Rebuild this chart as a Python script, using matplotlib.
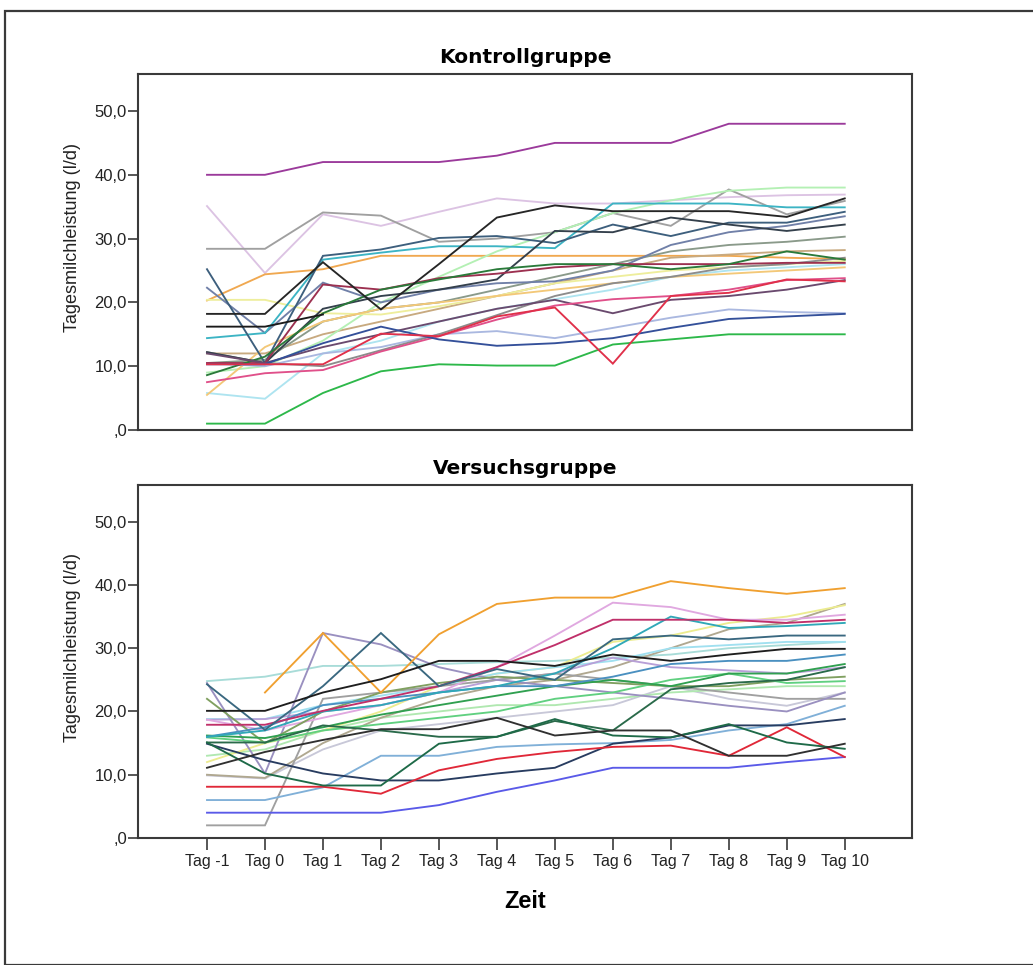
import numpy as np
import matplotlib.pyplot as plt
from matplotlib.patches import Rectangle
from matplotlib.ticker import FuncFormatter

nan = np.nan

tage = ['Tag -1', 'Tag 0', 'Tag 1', 'Tag 2', 'Tag 3', 'Tag 4',
        'Tag 5', 'Tag 6', 'Tag 7', 'Tag 8', 'Tag 9', 'Tag 10']

# Tagesmilchleistung je Tier (l/d), Kontrollgruppe
kontrolle = [
    [40, 40, 42, 42, 42, 43, 45, 45, 45, 48, 48, 48],
    [1, 1, 5.8, 9.2, 10.3, 10.1, 10.1, 13.4, 14.2, 15, 15, 15],
    [35.1, 24.6, 33.8, 32, 34.2, 36.3, 35.5, 35.5, 36, 36.5, 36.8, 36.9],
    [28.4, 28.4, 34.1, 33.6, 29.5, 30, 31, 34, 32, 37.7, 33.8, 35.9],
    [20.3, 24.4, 25.2, 27.3, 27.3, 27.3, 27.3, 27.3, 27.3, 27.3, 27, 26.8],
    [12, 12, 15, 17, 19, 21, 23, 25, 27, 27.5, 28, 28.2],
    [10.5, 11, 17, 19, 20, 22, 24, 26, 28, 29, 29.5, 30.3],
    [9, 10, 14, 20, 24, 28, 31, 34, 36, 37.5, 38, 38],
    [20.4, 20.4, 18.3, 18.1, 19.4, 21, 23, 24, 25, 25.5, 26, 26.5],
    [5.8, 4.9, 12, 14, 17, 19, 20.5, 22, 24, 25, 25.5, 26],
    [5.5, 13, 17, 19, 20, 21, 22, 23, 24, 24.5, 25, 25.5],
    [10.5, 10, 12, 13, 15, 15.5, 14.4, 16, 17.6, 18.9, 18.5, 18.3],
    [12.2, 10.5, 10, 12.5, 15, 18, 21, 23, 24, 25.5, 26, 27],
    [22.3, 15.2, 23.1, 20, 22, 23, 23.3, 25, 29, 31, 32, 33.5],
    [14.4, 15.2, 26.7, 27.8, 28.8, 28.8, 28.5, 35.5, 35.5, 35.5, 34.9, 34.9],
    [25.2, 10.5, 27.3, 28.3, 30.1, 30.4, 29.3, 32.2, 30.4, 32.5, 32.5, 34.2],
    [12.2, 10.5, 19, 21, 22, 23.6, 31.2, 31, 33.3, 32.2, 31.2, 32.2],
    [10.5, 10.5, 22.8, 22, 23.8, 24.5, 25.5, 26, 26, 26, 26.2, 26.2],
    [8.6, 11.5, 18.3, 22, 23.6, 25.2, 26, 26, 25.2, 26, 28, 26.7],
    [12, 10.5, 13, 15, 17, 19, 20.4, 18.3, 20.4, 21, 22, 23.5],
    [7.5, 8.9, 9.4, 12.3, 14.7, 17.3, 19.5, 20.5, 21, 22, 23.5, 23.8],
    [10.3, 10.3, 13.6, 16.2, 14.2, 13.2, 13.6, 14.4, 16, 17.4, 17.8, 18.2],
    [10.3, 10.3, 10.3, 15.1, 14.7, 17.8, 19.2, 10.4, 21, 21.5, 23.6, 23.3],
    [16.2, 16.2, 18.1, nan, nan, nan, nan, nan, nan, nan, nan, nan],
    [18.2, 18.2, 26.3, 18.9, 26, 33.3, 35.2, 34.3, 34.3, 34.3, 33.4, 36.3],
]
kontrolle_farben = [
    '#9b3a9b', '#2db84a', '#dcc3e3', '#a0a0a0', '#f0a850', '#c8aa80',
    '#8a9a8a', '#b4f0b4', '#eeee9c', '#aee4f0', '#f3c878', '#aab8e0',
    '#8c8c8c', '#7080a8', '#3cb4c4', '#3d5f7d', '#34404c', '#9c3050',
    '#2a7a3a', '#6a4a6e', '#e0508a', '#34509a', '#e0304a', '#1a1a1a',
    '#262626',
]

# Tagesmilchleistung je Tier (l/d), Versuchsgruppe
versuch = [
    [24.8, 25.5, 27.2, 27.2, 27.5, 27.8, 28, 28.5, 29, 30, 30.5, 31],
    [9.9, 9.4, 14, 17, 18, 19, 20, 21, 24, 22, 20.9, 23],
    [13, 14, 17, 19, 20, 21, 21, 22, 23, 23.5, 24, 24],
    [10, 9.5, 15, 19, 22, 24, 25, 27, 30, 33, 34, 37],
    [12, 15, 17, 20, 24, 26, 27, 31, 32, 34, 35, 36.8],
    [18.8, 18.8, 21, 22.5, 24, 26, 27, 28, 30, 30.5, 31, 31],
    [18.7, 18.8, 20, 21, 23, 25, 26, 28.5, 27, 26.5, 26, 27],
    [2, 2, 22, 23, 24, 25, 26, 25, 24, 23, 22, 22],
    [24.5, 10.2, 32.4, 30.6, 27, 25, 24, 23, 22, 20.9, 20, 23],
    [18.7, 17, 19, 21, 23, 27, 32, 37.2, 36.5, 34.5, 34.5, 35.3],
    [6, 6, 8, 13, 13, 14.4, 14.8, 15, 15.5, 17, 18, 20.9],
    [22, 15, 20, 23, 24.5, 25.5, 25, 24.5, 24, 24, 25, 25.5],
    [15.9, 15.1, 17, 18, 19, 20, 22, 23, 25, 26, 24.5, 24.8],
    [16.2, 15.8, 17.5, 19.5, 21, 22.5, 24, 25, 24, 26, 26, 27.5],
    [16, 17.5, 21, 22, 23, 24, 24, 25.5, 27.5, 28, 28, 29],
    [16, 17, 20, 21, 23, 24, 26, 30, 35, 33.2, 33.5, 34],
    [17.9, 17.9, 20.1, 22, 24, 27, 30.5, 34.5, 34.5, 34.5, 34, 34.5],
    [15.1, 15.1, 17.8, 17, 16, 16, 18.5, 17, 23.5, 24.5, 25, 27],
    [24.3, 17.1, 24, 32.4, 24, 26.7, 25, 31.4, 32, 31.4, 32, 32],
    [4, 4, 4, 4, 5.2, 7.3, 9.1, 11.1, 11.1, 11.1, 12, 12.8],
    [14.9, 12.3, 10.2, 9.1, 9.1, 10.2, 11.1, 14.9, 15.9, 17.8, 17.8, 18.8],
    [8.1, 8.1, 8.1, 7, 10.7, 12.5, 13.6, 14.4, 14.6, 13, 17.5, 12.8],
    [15.1, 10.2, 8.3, 8.3, 14.9, 16, 18.8, 16.2, 15.9, 18, 15.1, 14.1],
    [11.1, 13.6, 15.5, 17.2, 17.2, 19, 16.2, 17, 17, 13, 13, 14.9],
    [nan, 23, 32.4, 23, 32.2, 37, 38, 38, 40.6, 39.5, 38.6, 39.5],
    [20.1, 20.1, 23, 25.1, 28, 28, 27.2, 29, 28, 29, 29.9, 29.9],
]
versuch_farben = [
    '#a8dcd8', '#c8c8d8', '#b0e8b0', '#b0a890', '#ecec90', '#a0e0f0',
    '#b8a0d8', '#a0a0a0', '#9a90c0', '#e0a8e0', '#80b0d8', '#80a060',
    '#60d080', '#30a050', '#4a90c0', '#30a8b8', '#c0306a', '#2a6a4a',
    '#3a6880', '#5a5ae8', '#283c60', '#e02838', '#1e6a48', '#303030',
    '#f0a030', '#1e1e1e',
]

W, H = 1033, 965
fig = plt.figure(figsize=(W / 100, H / 100), dpi=100)

# Rahmen um die ganze Grafik
fig.patches.append(Rectangle((5 / W, 0), 1.1, 1 - 11 / H, transform=fig.transFigure,
                             fill=False, edgecolor='#3a3a3a', linewidth=1.6))

ax_k = fig.add_axes([138 / W, 1 - 430 / H, 774 / W, 356 / H])
ax_v = fig.add_axes([138 / W, 1 - 838 / H, 774 / W, 353 / H])

x = np.arange(len(tage))


def komma(v, pos):
    if v == 0:
        return ',0'
    return f'{v:.1f}'.replace('.', ',')


for ax, daten, farben, titel in [(ax_k, kontrolle, kontrolle_farben, 'Kontrollgruppe'),
                                 (ax_v, versuch, versuch_farben, 'Versuchsgruppe')]:
    for werte, farbe in zip(daten, farben):
        ax.plot(x, werte, color=farbe, linewidth=1.35, solid_joinstyle='miter')
    ax.set_xlim(-1.19, 12.16)
    ax.set_ylim(0, 55.8)
    ax.set_yticks([0, 10, 20, 30, 40, 50])
    ax.yaxis.set_major_formatter(FuncFormatter(komma))
    ax.tick_params(axis='y', direction='out', length=7, width=1.2, pad=1,
                   color='#3a3a3a', labelsize=12, labelcolor='#222222')
    for label in ax.get_yticklabels():
        label.set_family('Liberation Sans')
    for s in ax.spines.values():
        s.set_color('#3a3a3a')
        s.set_linewidth(1.5)
    ax.set_title(titel, fontsize=14.5, fontweight='bold', family='DejaVu Sans', pad=8)
    ax.text(-0.084, 0.54, 'Tagesmilchleistung (l/d)', transform=ax.transAxes,
            rotation=90, ha='center', va='center', fontsize=13,
            family='Liberation Sans', color='#222222')

ax_k.set_xticks([])
ax_v.set_xticks(x)
ax_v.set_xticklabels(tage, family='Liberation Sans', fontsize=11.5, color='#222222')
ax_v.tick_params(axis='x', direction='out', length=8.5, width=1.2, pad=3, color='#3a3a3a')

fig.text(525 / W, 1 - 901 / H, 'Zeit', ha='center', va='center', fontsize=17,
         fontweight='bold', family='Liberation Sans')

fig.savefig('out.png', dpi=100)
